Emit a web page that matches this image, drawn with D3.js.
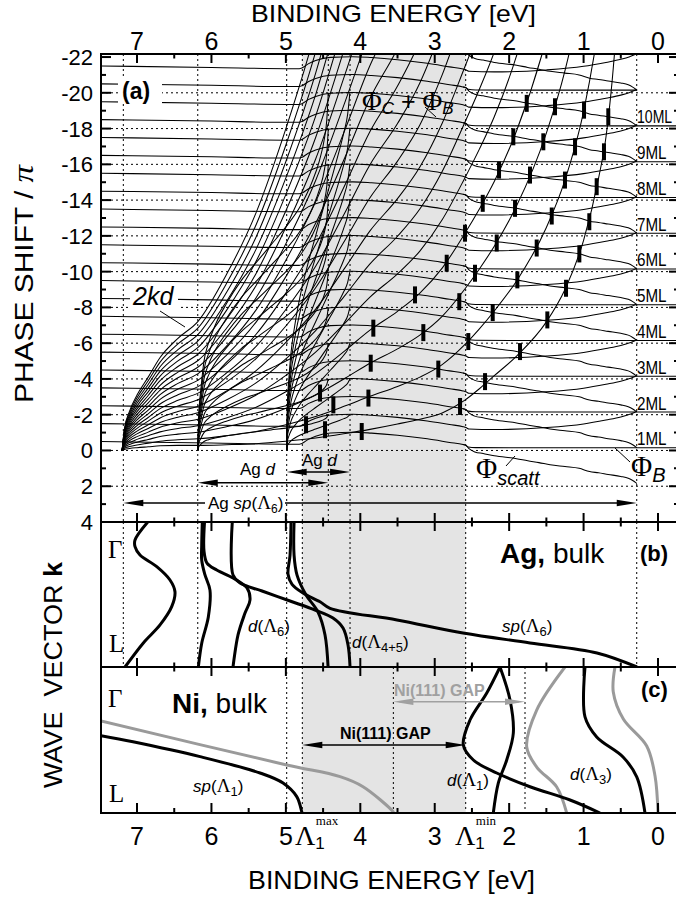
<!DOCTYPE html>
<html>
<head>
<meta charset="utf-8">
<script src="https://cdn.jsdelivr.net/npm/d3@7"></script>
<style>
  body { margin: 0; background: #fff; }
  text { font-family: "Liberation Sans", Arial, sans-serif; fill: #000; }
  .s { font-family: "Liberation Serif", "Times New Roman", serif; }
  .i { font-style: italic; }
  .b { font-weight: bold; }
</style>
</head>
<body>
<svg id="chart" width="676" height="901"></svg>
<script>
// ---------- data ----------
// energies are binding energies in eV, phases in units of pi
const gapEdges = [4.779, 2.584];                 // Ni(111) gap (grey band)
const dotsA = [7.184, 6.184, 4.989, 4.779, 4.430, 4.138, 2.584, 0.286];
const dotsB = [7.184, 6.184, 4.989, 4.779, 4.138, 2.584, 0.286];
const dotsC = [4.989, 4.779, 3.556, 2.584, 1.787];
const phaseGrid = [-20, -18, -16, -14, -12, -10, -8, -6, -4, -2, 0, 2];

// 2kd for the Ag sp band: N * spK + spPhi
const spE   = [7.2, 7.17, 7.1, 7.0, 6.85, 6.69, 6.45, 6.18, 5.8, 5.4, 5.0, 4.6, 4.2, 3.87, 3.5, 3.2, 2.9, 2.6, 2.4, 2.2, 1.9, 1.5, 1.25, 1.0, 0.8, 0.7, 0.62, 0.55];
const spK   = [0, 0.06, 0.11, 0.155, 0.205, 0.26, 0.315, 0.365, 0.5, 0.68, 0.92, 1.2, 1.55, 1.85, 2.1, 2.35, 2.7, 3.1, 3.35, 3.62, 4.2, 5.28, 6.12, 7.2, 8.5, 9.5, 10.5, 11.5];
const spPhi = [0, 0, 0, 0, 0, 0, -0.03, -0.08, -0.18, -0.3, -0.4, -0.5, -0.6, -0.67, -0.62, -0.6, -0.6, -0.3, 0.1, 0.56, 1.08, 1.91, 2.88, 4.55, 6.7, 8.0, 10, 12.5];
const spLayers = [1, 2, 3, 4, 5, 6, 7, 8, 9, 10, 11, 12, 13, 14, 15, 16, 17, 18, 19, 20];
// 2kd for the two Ag d bands
const d1E = [6.184, 6.17, 6.14, 6.1, 6.04, 5.95, 5.8, 5.6, 5.4, 5.2, 5.0, 4.8, 4.65, 4.55, 4.48, 4.45, 4.43];
const d1K = [0, 0.2, 0.35, 0.5, 0.6, 0.7, 0.82, 0.95, 1.05, 1.15, 1.25, 1.37, 1.5, 1.62, 1.75, 1.85, 2.0];
const d2E = [4.989, 4.98, 4.96, 4.93, 4.88, 4.8, 4.7, 4.6, 4.5, 4.4, 4.3, 4.22, 4.17, 4.14];
const d2K = [0, 0.25, 0.4, 0.55, 0.7, 0.88, 1.05, 1.2, 1.35, 1.5, 1.65, 1.78, 1.88, 2.0];
const dLayers = [1, 2, 3, 4, 5, 6, 7, 8, 9, 10];

// Phi_C + Phi_B - 2 pi n : flat branch, odd branch, scattering branch
const hE = [7.484, 6.0, 5.0, 4.82, 4.78, 4.7, 4.6, 4.4, 4.1, 3.85, 3.5, 3.1, 2.8, 2.62, 2.58, 2.55, 2.45, 2.0, 0.286];
const hP = [-0.5, -0.42, -0.35, -0.35, -0.4, -0.62, -0.8, -0.98, -1.02, -0.97, -0.85, -0.65, -0.45, -0.33, -0.28, -0.2, -0.16, -0.15, -0.15];
const oE = [7.484, 6.0, 5.0, 4.82, 4.78, 4.7, 4.6, 4.4, 4.1, 3.85, 3.5, 3.1, 2.8, 2.62, 2.58, 2.54, 2.2, 1.5, 1.0, 0.7, 0.5, 0.38, 0.31, 0.286];
const oP = [-1.5, -1.42, -1.35, -1.35, -1.4, -1.62, -1.8, -1.98, -2.02, -1.97, -1.85, -1.65, -1.45, -1.33, -1.28, -1.2, -1.17, -1.28, -1.48, -1.7, -1.87, -2.02, -2.14, -2.2];
const dE = [2.62, 2.58, 2.54, 2.46, 2.35, 2.2, 1.9, 1.75, 1.6, 1.45, 1.25, 1.06, 0.92, 0.8, 0.67, 0.5, 0.4, 0.34, 0.3, 0.286];
const dP = [-0.33, -0.28, -0.1, 0.08, 0.17, 0.3, 0.46, 0.58, 0.68, 0.8, 0.9, 1.0, 1.18, 1.25, 1.34, 1.45, 1.55, 1.68, 1.8, 1.85];
const orders = [0, 1, 2, 3, 4, 5, 6, 7, 8, 9, 10, 11];
const mlNames = ["1ML", "2ML", "3ML", "4ML", "5ML", "6ML", "7ML", "8ML", "9ML", "10ML"];

// quantum well states (thick bars)
const barE = [1.764, 1.384, 0.994, 0.668, 1.944, 1.541, 1.115, 0.726, 2.136, 1.720, 1.250, 0.824,
              2.355, 1.921, 1.428, 0.923, 2.593, 2.167, 1.630, 1.057, 2.839, 2.459, 1.890, 1.236,
              3.265, 2.670, 2.221, 1.487, 3.825, 3.153, 2.549, 1.854, 3.860, 2.952, 2.324,
              3.891, 2.660, 3.981, 4.541, 4.362, 4.729, 4.474];
const barP = [-19.41, -19.22, -19.03, -18.66, -17.54, -17.26, -16.98, -16.70, -15.68, -15.40, -15.12, -14.75,
              -13.82, -13.54, -13.11, -12.79, -12.15, -11.60, -11.32, -10.99, -10.47, -9.91, -9.54, -9.07,
              -8.70, -8.32, -7.71, -7.30, -6.84, -6.59, -6.09, -5.53, -4.88, -4.55, -3.85,
              -2.93, -2.46, -1.06, -3.21, -2.55, -1.44, -1.16];

// bulk bands, [energy, k] with k = 0 at Gamma, 1 at L
const agBands = [
  [[6.856,0],[7.027,0.124],[7.027,0.17],[6.96,0.228],[6.735,0.308],[6.557,0.4],[6.49,0.481],[6.534,0.584],[6.691,0.71],[6.915,0.834],[7.161,1]],
  [[6.123,0],[6.131,0.16],[6.131,0.262],[6.09,0.36],[6.02,0.47],[6.042,0.655],[6.13,0.834],[6.176,1]],
  [[6.093,0],[6.1,0.2],[6.06,0.283],[5.929,0.331],[5.71,0.386],[5.522,0.455],[5.482,0.538],[5.549,0.628],[5.643,0.779],[5.71,1]],
  [[5.72,0],[5.71,0.366],[5.616,0.421],[5.32,0.476],[4.944,0.545],[4.608,0.607],[4.367,0.662],[4.232,0.731],[4.165,0.848],[4.138,1]],
  [[4.89,0],[4.89,0.228],[4.85,0.366],[4.729,0.503],[4.568,0.621],[4.474,0.779],[4.433,1]],
  [[4.931,0],[4.944,0.228],[4.971,0.36],[4.917,0.43],[4.77,0.49],[4.541,0.55],[4.407,0.595],[3.507,0.676],[2.62,0.766],[1.72,0.834],[0.82,0.903],[0.282,1]]
];
const niBlack = [
  [[7.484,0.47],[7.054,0.512],[6.153,0.614],[5.347,0.726],[5.038,0.795],[4.854,0.888],[4.787,0.991],[4.783,1]],
  [[2.123,0],[2.301,0.178],[2.526,0.363],[2.616,0.534],[2.481,0.637],[2.167,0.726],[1.72,0.82],[1.182,0.911],[0.779,1]],
  [[2.123,0],[1.988,0.226],[1.944,0.452],[2.033,0.637],[2.146,0.795],[2.213,1]],
  [[0.981,0],[0.981,0.342],[0.824,0.479],[0.47,0.616],[0.286,0.753],[0.175,1]]
];
const niGrey = [
  [[7.484,0.37],[4.989,0.671],[4.272,0.751],[3.963,0.82],[3.56,0.991],[3.553,1]],
  [[1.25,0],[1.63,0.295],[1.764,0.548],[1.63,0.685],[1.361,0.822],[1.227,1]],
  [[0.578,0],[0.601,0.171],[0.466,0.356],[0.152,0.541],[0.04,0.747],[0.0,1]]
];

const xTicks = [7, 6, 5, 4, 3, 2, 1, 0];
const xMinor = [6.5, 5.5, 4.5, 3.5, 2.5, 1.5, 0.5];
const yTicks = [-22, -20, -18, -16, -14, -12, -10, -8, -6, -4, -2, 0, 2, 4];
const yMinor = [-21, -19, -17, -15, -13, -11, -9, -7, -5, -3, -1, 1, 3];

// ---------- scales ----------
const svg = d3.select("#chart");
const L = 101, R = 679, TOP = 54, AB = 522, BC = 667, BOT = 813;
const x = d3.scaleLinear().domain([7.484, -0.282]).range([L, R]);
const yA = d3.scaleLinear().domain([-22.17, 4]).range([TOP, AB]);
const yB = d3.scaleLinear().domain([0, 1]).range([AB, BC]);
const yC = d3.scaleLinear().domain([0, 1]).range([BC, BOT]);

const defs = svg.append("defs");
[["clipA", TOP, AB], ["clipB", AB, BC], ["clipC", BC, BOT]].forEach(([id, y0, y1]) => {
  defs.append("clipPath").attr("id", id).append("rect")
    .attr("x", L).attr("y", y0).attr("width", R - L).attr("height", y1 - y0);
});

// grey Ni gap band
svg.append("rect")
  .attr("x", x(gapEdges[0])).attr("y", TOP)
  .attr("width", x(gapEdges[1]) - x(gapEdges[0])).attr("height", BOT - TOP)
  .attr("fill", "#e4e4e4");

// dotted grid
const grid = svg.append("g").attr("stroke", "#000").attr("stroke-width", 1).attr("stroke-dasharray", "2,3");
dotsA.forEach(e => grid.append("line").attr("x1", x(e)).attr("x2", x(e)).attr("y1", TOP).attr("y2", AB));
dotsB.forEach(e => grid.append("line").attr("x1", x(e)).attr("x2", x(e)).attr("y1", AB).attr("y2", BC));
dotsC.forEach(e => grid.append("line").attr("x1", x(e)).attr("x2", x(e)).attr("y1", BC).attr("y2", BOT));
phaseGrid.forEach(p => grid.append("line").attr("x1", L).attr("x2", R).attr("y1", yA(p)).attr("y2", yA(p)));

// ---------- panel (a) curves ----------
const gA = svg.append("g").attr("clip-path", "url(#clipA)")
  .attr("fill", "none").attr("stroke", "#000").attr("stroke-width", 1.05);
const lineA = d3.line().x(d => x(d[0])).y(d => yA(d[1])).curve(d3.curveMonotoneX);

// 2kd fans
spLayers.forEach(n => {
  gA.append("path").attr("d", lineA(spE.map((e, i) => [e, -(n * spK[i] + spPhi[i])])));
});
dLayers.forEach(n => {
  gA.append("path").attr("d", lineA(d1E.map((e, i) => [e, -n * d1K[i]])));
  gA.append("path").attr("d", lineA(d2E.map((e, i) => [e, -n * d2K[i]])));
});
// phase curves
orders.forEach(m => {
  if (m <= 10) {
    const pts = hE.map((e, i) => [e, hP[i] - 2 * m]);
    if (m <= 9) pts.push([-0.282, hP[hP.length - 1] - 2 * m]);
    gA.append("path").attr("d", lineA(pts));
    gA.append("path").attr("d", lineA(oE.map((e, i) => [e, oP[i] - 2 * m])));
  }
  gA.append("path").attr("d", lineA(dE.map((e, i) => [e, dP[i] - 2 * m])));
});

// quantum well state bars
svg.append("g").attr("clip-path", "url(#clipA)").selectAll("rect")
  .data(barE.map((e, i) => [e, barP[i]])).enter().append("rect")
  .attr("x", d => x(d[0]) - 2).attr("y", d => yA(d[1]) - 8.5)
  .attr("width", 4).attr("height", 17).attr("fill", "#000");

// ---------- panels (b), (c) bands ----------
const lineB = d3.line().x(d => x(d[0])).y(d => yB(d[1])).curve(d3.curveCatmullRom.alpha(0.5));
const lineC = d3.line().x(d => x(d[0])).y(d => yC(d[1])).curve(d3.curveCatmullRom.alpha(0.5));
const gB = svg.append("g").attr("clip-path", "url(#clipB)").attr("fill", "none");
agBands.forEach(b => gB.append("path").attr("d", lineB(b)).attr("stroke", "#000").attr("stroke-width", 3));
const gC = svg.append("g").attr("clip-path", "url(#clipC)").attr("fill", "none");
niGrey.forEach(b => gC.append("path").attr("d", lineC(b)).attr("stroke", "#9a9a9a").attr("stroke-width", 3));
niBlack.forEach(b => gC.append("path").attr("d", lineC(b)).attr("stroke", "#000").attr("stroke-width", 3));

// ---------- helpers ----------
function rich(xx, yy, size, parts, anchor) {
  const t = svg.append("text").attr("x", xx).attr("y", yy).attr("font-size", size);
  if (anchor) t.attr("text-anchor", anchor);
  parts.forEach(p => {
    const s = t.append("tspan").text(p[0]);
    if (p[1]) s.attr("class", p[1]);
    if (p[2]) s.attr("dy", p[2]);
    if (p[3]) s.attr("font-size", p[3]);
    if (p[4]) s.attr("dx", p[4]);
  });
  return t;
}
function arrow(x1, x2, yy, color, both) {
  const g = svg.append("g");
  g.append("line").attr("x1", x1 + 6).attr("x2", x2 - 6).attr("y1", yy).attr("y2", yy)
    .attr("stroke", color).attr("stroke-width", 1.5);
  g.append("path").attr("d", `M${x2},${yy} l-20,-3.2 l0,6.4 z`).attr("fill", color);
  if (both) g.append("path").attr("d", `M${x1},${yy} l20,-3.2 l0,6.4 z`).attr("fill", color);
}
function bgBox(x0, y0, w, h, fill) {
  svg.append("rect").attr("x", x0).attr("y", y0).attr("width", w).attr("height", h).attr("fill", fill || "#fff");
}

// ---------- panel (a) annotations ----------
bgBox(118, 78, 44, 26);
rich(122, 99, 23, [["(a)", "b"]]);
bgBox(130, 283, 48, 26);
rich(133, 305, 25, [["2kd", "i"]]);
svg.append("line").attr("x1", 160).attr("y1", 311).attr("x2", 185).attr("y2", 327).attr("stroke", "#000");

rich(362, 110, 27, [["Φ", "s"], ["C", "i", 4, 17], [" + ", null, -4, 25], ["Φ", "s", null, 27], ["B", "i", 4, 17]]);
svg.append("line").attr("x1", 425).attr("y1", 107).attr("x2", 436).attr("y2", 117).attr("stroke", "#000");

rich(476, 478, 29, [["Φ", "s"], ["scatt", "i", 7, 20]]);
svg.append("line").attr("x1", 506).attr("y1", 466).attr("x2", 515).attr("y2", 456).attr("stroke", "#000");
rich(631, 476, 29, [["Φ", "s"], ["B", "i", 6, 20]]);
svg.append("line").attr("x1", 615).attr("y1", 448).attr("x2", 630).attr("y2", 462).attr("stroke", "#000");

// layer labels, slightly condensed like the original lettering
mlNames.forEach((s, m) => {
  svg.append("text")
    .attr("transform", `translate(637,${yA(-2 * m - 0.15) - 2.5}) scale(${s.length === 4 ? 0.74 : 0.8},1)`)
    .attr("font-size", 19).text(s);
});

// band width arrows
arrow(x(6.184), x(4.430), 482.7, "#000", true);
rich(240, 475, 17, [["Ag "], ["d", "i"]]);
arrow(x(4.989), x(4.138), 472, "#000", true);
rich(302, 466, 17, [["Ag "], ["d", "i"]]);
arrow(x(7.184), x(0.286), 503, "#000", true);
bgBox(205, 493, 80, 20);
rich(208, 509, 17, [["Ag "], ["sp", "i"], ["("], ["Λ", "s", null, 19], ["6", null, 4, 12], [")", null, -4, 17]]);

// ---------- panel (b) annotations ----------
rich(108, 558, 25, [["Γ", "s"]]);
rich(109, 652, 25, [["L", "s"]]);
rich(500, 563, 28, [["Ag,", "b"], [" bulk"]]);
rich(640, 561, 22, [["(b)", "b"]]);
rich(248, 632, 17, [["d", "i"], ["("], ["Λ", "s", null, 19], ["6", null, 4, 13], [")", null, -4, 17]]);
rich(502, 632, 17, [["sp", "i"], ["("], ["Λ", "s", null, 19], ["6", null, 4, 13], [")", null, -4, 17]]);
rich(352, 648, 17, [["d", "i"], ["("], ["Λ", "s", null, 19], ["4+5", null, 4, 13], [")", null, -4, 17]]);

// ---------- panel (c) annotations ----------
rich(108, 707, 25, [["Γ", "s"]]);
rich(109, 802, 25, [["L", "s"]]);
rich(172, 713, 28, [["Ni,", "b"], [" bulk"]]);
rich(641, 697, 22, [["(c)", "b"]]);
arrow(x(3.556), x(1.787), 701.7, "#a0a0a0", true);
rich(394, 696, 16, [["Ni(111) GAP", "b"]]).style("fill", "#a0a0a0");
arrow(x(4.779), x(2.584), 745, "#000", true);
rich(340, 739, 16, [["Ni(111) GAP", "b"]]);
rich(193, 792, 17, [["sp", "i"], ["("], ["Λ", "s", null, 19], ["1", null, 4, 13], [")", null, -4, 17]]);
rich(447, 786, 17, [["d", "i"], ["("], ["Λ", "s", null, 19], ["1", null, 4, 13], [")", null, -4, 17]]);
rich(570, 780, 17, [["d", "i"], ["("], ["Λ", "s", null, 19], ["3", null, 4, 13], [")", null, -4, 17]]);

// ---------- axes and frames ----------
const ax = svg.append("g").attr("stroke", "#000").attr("stroke-width", 2);
[TOP, AB, BC, BOT].forEach(yy => ax.append("line").attr("x1", L - 1).attr("x2", R).attr("y1", yy).attr("y2", yy));
ax.append("line").attr("x1", L).attr("x2", L).attr("y1", TOP - 1).attr("y2", BOT + 1);
ax.append("line").attr("x1", R).attr("x2", R).attr("y1", TOP - 1).attr("y2", BOT + 1);

function xTickMarks(yy, up, down) {
  xTicks.forEach(e => ax.append("line").attr("x1", x(e)).attr("x2", x(e)).attr("y1", yy - up).attr("y2", yy + down));
  xMinor.forEach(e => ax.append("line").attr("x1", x(e)).attr("x2", x(e)).attr("y1", yy - up / 2).attr("y2", yy + down / 2));
}
xTickMarks(TOP, 0, 9);
xTickMarks(AB, 9, 9);
xTickMarks(BC, 9, 9);
xTickMarks(BOT, 10, 0);
yTicks.forEach(p => {
  ax.append("line").attr("x1", L).attr("x2", L + 10).attr("y1", yA(p)).attr("y2", yA(p));
  ax.append("line").attr("x1", R - 10).attr("x2", R).attr("y1", yA(p)).attr("y2", yA(p));
});
yMinor.forEach(p => {
  ax.append("line").attr("x1", L).attr("x2", L + 5).attr("y1", yA(p)).attr("y2", yA(p));
  ax.append("line").attr("x1", R - 5).attr("x2", R).attr("y1", yA(p)).attr("y2", yA(p));
});

// tick labels
xTicks.forEach(e => {
  svg.append("text").attr("x", x(e)).attr("y", 50).attr("text-anchor", "middle").attr("font-size", 25).text(e);
  svg.append("text").attr("x", x(e)).attr("y", 845).attr("text-anchor", "middle").attr("font-size", 25).text(e);
});
yTicks.forEach(p => {
  svg.append("text").attr("x", 93).attr("y", yA(p) + 8).attr("text-anchor", "end").attr("font-size", 22).text(p);
});
// gap edge labels on the energy axis
rich(295, 845, 28, [["Λ", "s"], ["1", null, 4, 17], ["max", "s", -24, 13, -9]]);
rich(455, 845, 28, [["Λ", "s"], ["1", null, 4, 17], ["min", "s", -24, 13, -9]]);

// axis titles
svg.append("text").attr("x", 251).attr("y", 22).attr("font-size", 24)
  .attr("textLength", 285).attr("lengthAdjust", "spacingAndGlyphs").text("BINDING ENERGY [eV]");
svg.append("text").attr("x", 248).attr("y", 889).attr("font-size", 25)
  .attr("textLength", 287).attr("lengthAdjust", "spacingAndGlyphs").text("BINDING ENERGY [eV]");
const yt = svg.append("text").attr("transform", "translate(33,403) rotate(-90)").attr("font-size", 25)
  .attr("textLength", 238).attr("lengthAdjust", "spacingAndGlyphs");
yt.append("tspan").text("PHASE SHIFT / ");
yt.append("tspan").attr("class", "s i").attr("font-size", 29).text("π");
const kt = svg.append("text").attr("transform", "translate(62,788) rotate(-90)").attr("font-size", 25)
  .attr("textLength", 226).attr("lengthAdjust", "spacingAndGlyphs").style("white-space", "pre");
kt.append("tspan").text("WAVE  VECTOR ");
kt.append("tspan").attr("class", "b").text("k");
</script>
</body>
</html>
